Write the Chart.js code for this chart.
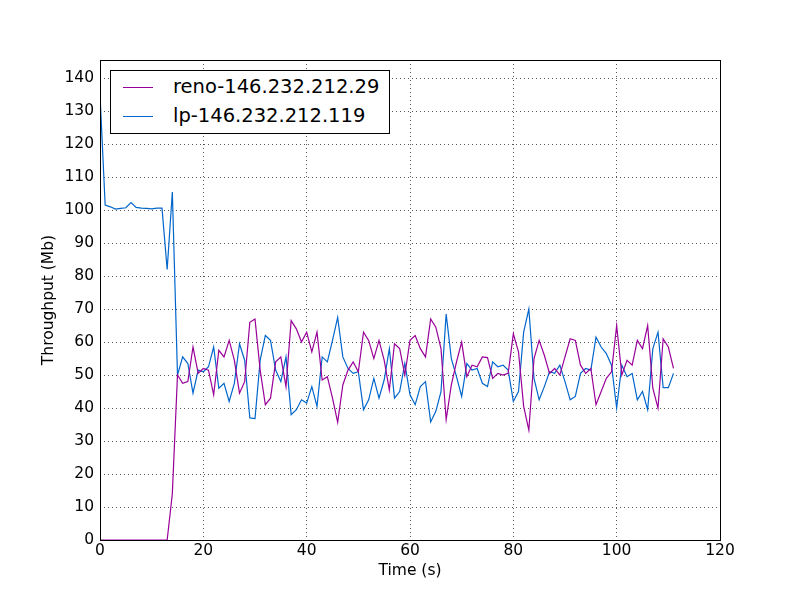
<!DOCTYPE html>
<html>
<head>
<meta charset="utf-8">
<script src="https://cdn.jsdelivr.net/npm/chart.js@4/dist/chart.umd.min.js"></script>
<style>
  body { margin: 0; background: #fff; }
  #wrap { position: relative; width: 800px; height: 600px; }
  #legend {
    position: absolute; left: 110px; top: 70px; width: 280px; height: 64px;
    border: 1px solid #000; background: #fff; box-sizing: border-box;
    font-family: "DejaVu Sans", sans-serif; font-size: 19.5px;
  }
  .row { position: absolute; left: 12px; height: 24px; line-height: 24px; }
  .row span { display: inline-block; width: 30px; height: 0; border-top: 1.2px solid; vertical-align: middle; margin-right: 20px; }
</style>
</head>
<body>
<div id="wrap">
  <canvas id="grafico" width="800" height="600"></canvas>
  <div id="legend">
    <div class="row" style="top:4px"><span style="border-color:#990099"></span>reno-146.232.212.29</div>
    <div class="row" style="top:33px"><span style="border-color:#0066cc"></span>lp-146.232.212.119</div>
  </div>
</div>
<script>
// dados (um ponto por segundo, 0..111)
const tempos = Array.from({ length: 112 }, (_, i) => i);

const renoData = [
  0, 0, 0, 0, 0, 0, 0, 0, 0, 0, 0, 0, 0, 0, 14, 50, 47.5, 48, 58.5, 50.5,
  52, 51.5, 44, 57.5, 55.5, 60.5, 54.5, 44.5, 48, 66, 67, 51.5, 41, 43, 54, 55.5, 46.5, 66.5, 64, 60,
  63, 57, 63, 48.5, 49.5, 43, 35.7, 47, 51.5, 54, 51, 63, 60.5, 55, 60.5, 54.5, 45.5, 59.5, 58, 50,
  60.5, 62, 58, 55.5, 67, 64.5, 58, 36.5, 47, 54, 60, 49.5, 53, 52.5, 55.5, 55.3, 49, 50.5, 50, 50.5,
  62.5, 57, 40.5, 33.3, 55, 60.5, 56, 50.5, 52, 50, 55.5, 61, 60.5, 53, 50.5, 52, 41, 45, 49, 51,
  65, 50, 54.5, 53, 60.5, 58, 65, 46, 40, 61, 58.5, 52
];

const lpData = [
  135, 101.5, 101, 100.3, 100.5, 100.7, 102.3, 100.8, 100.6, 100.5, 100.4, 100.6, 100.6, 82, 105.5, 50, 55.5, 53.5, 44.5, 51.5,
  51, 52.5, 58.5, 46, 47.5, 42, 47.5, 59.5, 54.5, 37, 36.8, 54.5, 62, 60.5, 51.5, 48, 55.5, 38, 39.5, 42.5,
  41.5, 46.5, 40.5, 55.5, 54, 60.5, 67.5, 55.5, 52, 50.5, 51, 39.5, 42.5, 49, 43, 48.5, 58, 43, 45, 53.5,
  44, 41, 46.5, 48, 35.8, 39, 45, 68.5, 55, 49.5, 43.5, 53.5, 51.5, 52, 47.5, 46.5, 54, 52.5, 53, 51.5,
  42, 45, 63, 70, 49, 42.5, 46.5, 51, 50.5, 53, 48, 42.5, 43.5, 50.5, 52, 51.5, 61.5, 58.5, 56.5, 53,
  40, 53, 49.5, 50.5, 42.5, 45, 39.5, 58, 63, 46.2, 46.2, 50.5
];

const toXY = arr => arr.map((v, i) => ({ x: tempos[i], y: v }));

// moldura completa à volta da área do gráfico
const moldura = {
  id: 'moldura',
  afterDraw(chart) {
    const { ctx, chartArea: a } = chart;
    ctx.save();
    ctx.strokeStyle = '#000';
    ctx.lineWidth = 1;
    ctx.strokeRect(a.left + 0.5, a.top + 0.5, a.right - a.left, a.bottom - a.top);
    ctx.restore();
  }
};

Chart.defaults.font.family = '"DejaVu Sans", sans-serif';
Chart.defaults.color = '#000';

new Chart(document.getElementById('grafico').getContext('2d'), {
  type: 'line',
  data: {
    datasets: [
      { label: 'reno-146.232.212.29', data: toXY(renoData), borderColor: '#990099', borderWidth: 1.2, pointRadius: 0, tension: 0 },
      { label: 'lp-146.232.212.119', data: toXY(lpData), borderColor: '#0066cc', borderWidth: 1.2, pointRadius: 0, tension: 0 }
    ]
  },
  options: {
    responsive: false,
    animation: false,
    layout: { padding: { left: 40, right: 80, top: 60, bottom: 20 } },
    plugins: { legend: { display: false }, tooltip: { enabled: false } },
    scales: {
      x: {
        type: 'linear', min: 0, max: 120,
        ticks: { stepSize: 20, font: { size: 15.5 }, padding: 2 },
        grid: { color: '#555', drawTicks: false },
        border: { display: false, dash: [1, 3] },
        title: { display: true, text: 'Time (s)', font: { size: 15.5 }, padding: 0 },
        afterFit: s => { s.height = 40; }
      },
      y: {
        min: 0, max: 145.5,
        ticks: { stepSize: 10, font: { size: 15.5 }, padding: 6,
          callback: v => (v % 10 === 0 ? v : '') },
        grid: { color: '#555', drawTicks: false },
        border: { display: false, dash: [1, 3] },
        title: { display: true, text: 'Throughput (Mb)', font: { size: 15.5 }, padding: 0 },
        afterFit: s => { s.width = 60; }
      }
    }
  },
  plugins: [moldura]
});
</script>
</body>
</html>
